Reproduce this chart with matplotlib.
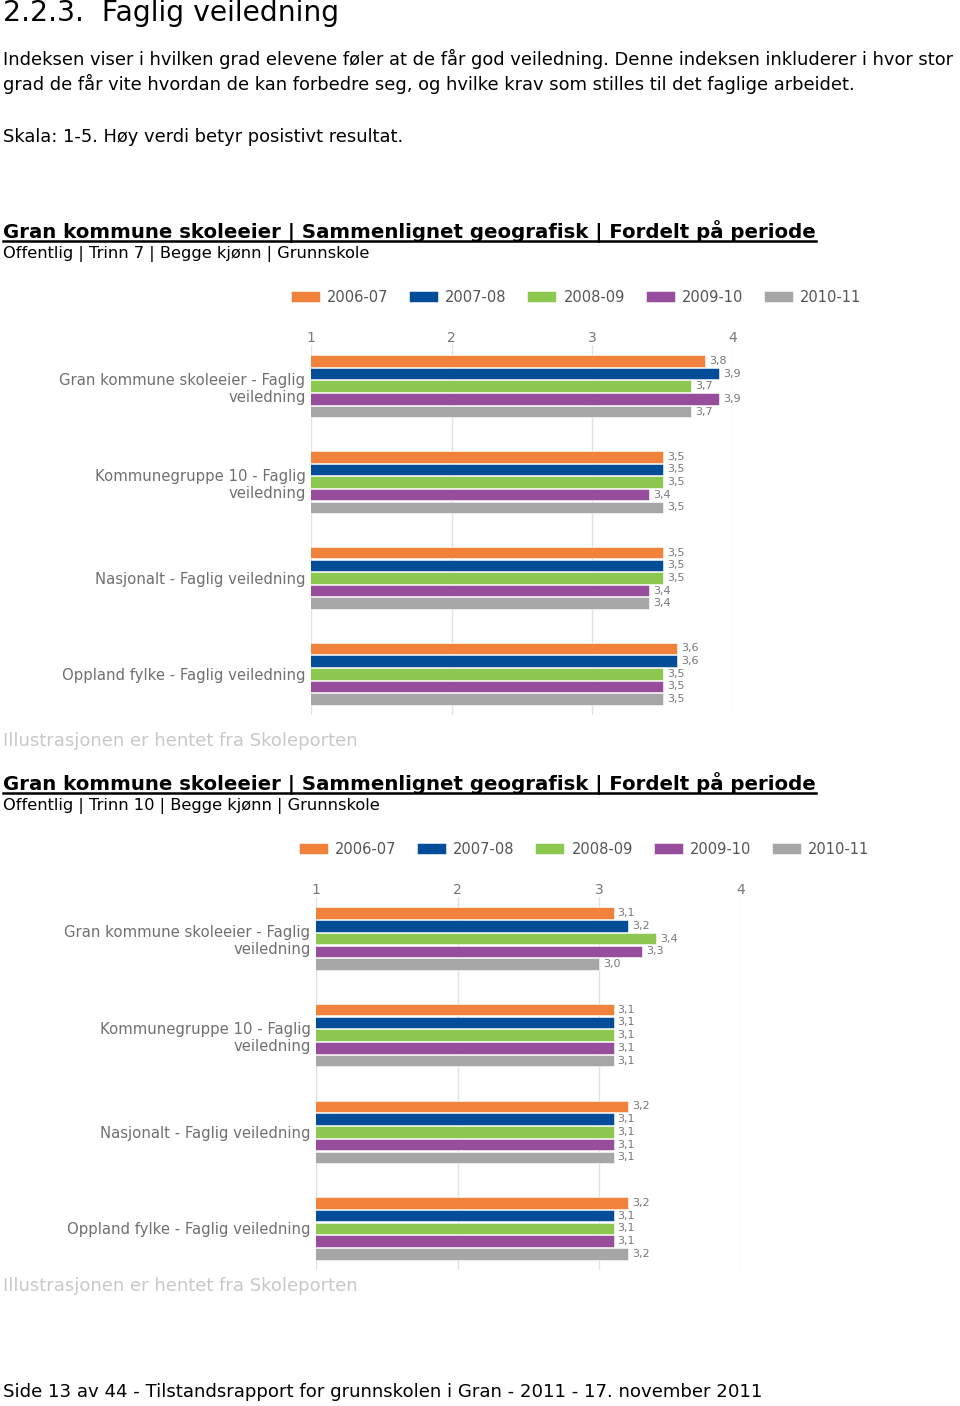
import numpy as np
import matplotlib
matplotlib.use("Agg")
import matplotlib.pyplot as plt
from matplotlib.lines import Line2D

# data
periods = ["2006-07", "2007-08", "2008-09", "2009-10", "2010-11"]
colors = ["#F0823C", "#034C97", "#8CC850", "#984C9C", "#A6A6A6"]
groups = ["Gran kommune skoleeier - Faglig\nveiledning",
          "Kommunegruppe 10 - Faglig\nveiledning",
          "Nasjonalt - Faglig veiledning",
          "Oppland fylke - Faglig veiledning"]

# Trinn 7, one list per period (groups in order above)
t7_2006 = [3.8, 3.5, 3.5, 3.6]
t7_2007 = [3.9, 3.5, 3.5, 3.6]
t7_2008 = [3.7, 3.5, 3.5, 3.5]
t7_2009 = [3.9, 3.4, 3.4, 3.5]
t7_2010 = [3.7, 3.5, 3.4, 3.5]

# Trinn 10
t10_2006 = [3.1, 3.1, 3.2, 3.2]
t10_2007 = [3.2, 3.1, 3.1, 3.1]
t10_2008 = [3.4, 3.1, 3.1, 3.1]
t10_2009 = [3.3, 3.1, 3.1, 3.1]
t10_2010 = [3.0, 3.1, 3.1, 3.2]

xticks = [1, 2, 3, 4]

W, H = 960, 1406
fig = plt.figure(figsize=(W / 100, H / 100), dpi=100)


def fx(x):
    return x / W


def fy(y):
    return 1 - y / H


def txt(x, y, s, **kw):
    kw.setdefault("va", "center")
    kw.setdefault("ha", "left")
    return fig.text(fx(x), fy(y), s, **kw)


def chart(left, right, top, bottom, series, leg_x, leg_y):
    ax = fig.add_axes([fx(left), fy(bottom), (right - left) / W, (bottom - top) / H])
    y = np.arange(len(groups))
    handles = []
    for i, vals in enumerate(series):
        bars = ax.barh(y + (i - 2) * 0.132, vals, height=0.12, color=colors[i],
                       edgecolor="white", linewidth=0.4, zorder=2)
        ax.bar_label(bars, labels=[f"{v:.1f}".replace(".", ",") for v in vals],
                     padding=3, fontsize=8, color="#777777")
        handles.append(bars)
    ax.set_xlim(1, 4)
    ax.set_ylim(3.43, -0.43)
    ax.set_xticks(xticks)
    ax.xaxis.tick_top()
    ax.tick_params(axis="x", length=0, pad=0, labelsize=10, labelcolor="#777777")
    ax.set_yticks(y, groups)
    ax.tick_params(axis="y", length=0, pad=4, labelsize=10.75, labelcolor="#707070")
    ax.grid(axis="x", color="#e2e2e2", lw=1, zorder=0)
    for sp in ax.spines.values():
        sp.set_visible(False)
    fig.legend(handles, periods, loc="center", bbox_to_anchor=(fx(leg_x), fy(leg_y)),
               ncol=5, frameon=False, fontsize=10.5, handlelength=2.0, handleheight=0.8,
               handletextpad=0.5, columnspacing=1.4, labelcolor="#555555")
    return ax


# page text
txt(3, 13, "2.2.3.  Faglig veiledning", fontsize=20.3)
txt(3, 59, "Indeksen viser i hvilken grad elevene føler at de får god veiledning. Denne indeksen inkluderer i hvor stor", fontsize=12.85)
txt(3, 84, "grad de får vite hvordan de kan forbedre seg, og hvilke krav som stilles til det faglige arbeidet.", fontsize=12.85)
txt(3, 137, "Skala: 1-5. Høy verdi betyr posistivt resultat.", fontsize=12.85)

heading = "Gran kommune skoleeier | Sammenlignet geografisk | Fordelt på periode"
h1 = txt(3, 232, heading, fontsize=14.25, fontweight="bold")
txt(3, 254, "Offentlig | Trinn 7 | Begge kjønn | Grunnskole", fontsize=11.7)
chart(311, 733, 345, 715, [t7_2006, t7_2007, t7_2008, t7_2009, t7_2010], 576, 297)
txt(3, 741, "Illustrasjonen er hentet fra Skoleporten", fontsize=13, color="#c8c8c8")

h2 = txt(3, 784, heading, fontsize=14.25, fontweight="bold")
txt(3, 806, "Offentlig | Trinn 10 | Begge kjønn | Grunnskole", fontsize=11.7)
chart(316, 741, 897, 1270, [t10_2006, t10_2007, t10_2008, t10_2009, t10_2010], 584, 849)
txt(3, 1286, "Illustrasjonen er hentet fra Skoleporten", fontsize=13, color="#c8c8c8")

txt(3, 1392, "Side 13 av 44 - Tilstandsrapport for grunnskolen i Gran - 2011 - 17. november 2011",
    fontsize=13.1)

# underline the two headings
fig.canvas.draw()
inv = fig.transFigure.inverted()
for h in (h1, h2):
    bb = h.get_window_extent().transformed(inv)
    yl = bb.y0 + 2.0 / H
    fig.add_artist(Line2D([bb.x0, bb.x1], [yl, yl],
                          color="black", lw=1.8, transform=fig.transFigure))

fig.savefig("out.png", dpi=100)
